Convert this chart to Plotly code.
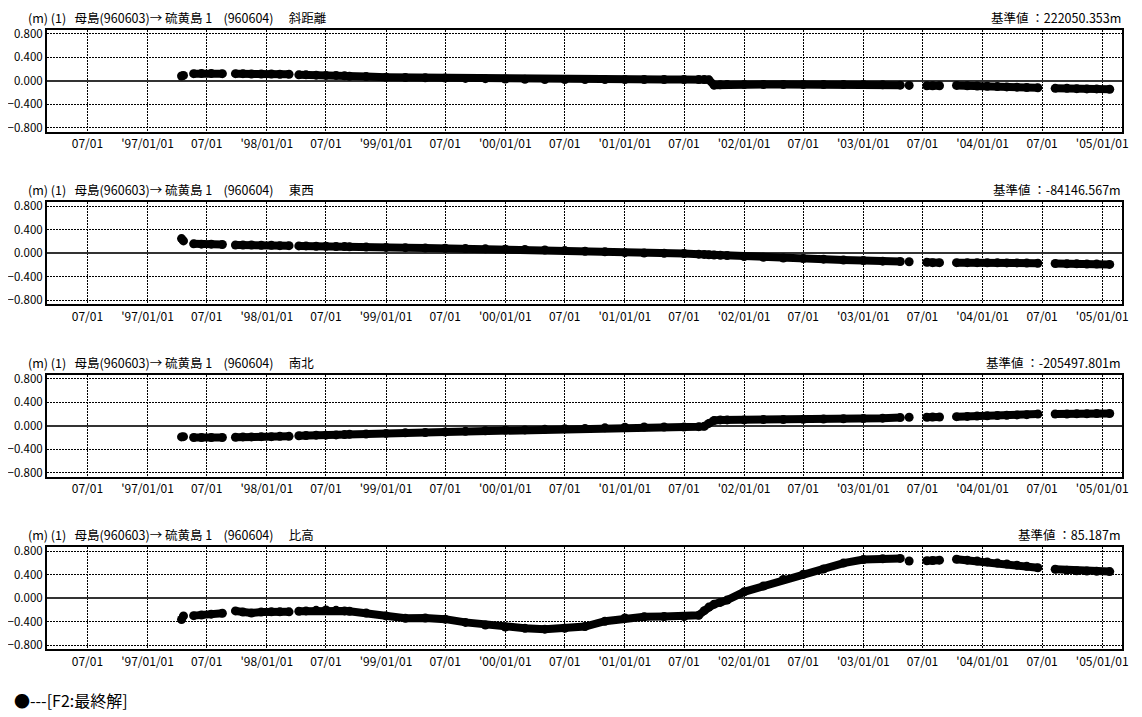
import plotly.graph_objects as go

# ---------------- data ----------------
dates = [
    "1997-04-15", "1997-04-21", "1997-05-05",
    "1997-05-22", "1997-06-15", "1997-07-15", "1997-08-18", "1997-09-05",
    "1997-09-27", "1997-10-20", "1997-11-15", "1997-12-15", "1998-01-15", "1998-02-10", "1998-03-10", "1998-03-25",
    "1998-04-09", "1998-05-01", "1998-06-01", "1998-07-01", "1998-08-01", "1998-08-27",
    "1998-09-11", "1998-11-01", "1999-01-01", "1999-03-01", "1999-05-01", "1999-07-01", "1999-09-01", "1999-11-01",
    "2000-01-01", "2000-03-01", "2000-05-01", "2000-07-01", "2000-09-01", "2000-11-01",
    "2001-01-01", "2001-03-01", "2001-05-01", "2001-07-01",
    "2001-08-15", "2001-09-01", "2001-09-15", "2001-10-01", "2001-10-20", "2001-11-10",
    "2002-01-01", "2002-03-01", "2002-05-01", "2002-07-01", "2002-09-01", "2002-11-01",
    "2003-01-01", "2003-03-01", "2003-04-24", "2003-05-08", "2003-05-21", "2003-06-15",
    "2003-07-14", "2003-08-01", "2003-08-22", "2003-09-15",
    "2003-10-13", "2003-11-15", "2003-12-15", "2004-01-15", "2004-02-15", "2004-03-15", "2004-04-15", "2004-05-15", "2004-06-18",
    "2004-07-15",
    "2004-08-10", "2004-09-15", "2004-10-15", "2004-11-15", "2004-12-15", "2005-01-24",
]

slope_dist = [
    0.08, 0.09, None,
    0.12, 0.125, 0.125, 0.12, None,
    0.12, 0.12, 0.115, 0.115, 0.115, 0.11, 0.11, None,
    0.10, 0.10, 0.095, 0.09, 0.09, 0.085,
    0.075, 0.07, 0.06, 0.055, 0.05, 0.045, 0.04, 0.035,
    0.03, 0.025, 0.02, 0.02, 0.02, 0.02,
    0.02, 0.02, 0.02, 0.02,
    0.02, 0.02, 0.015, -0.075, -0.07, -0.065,
    -0.065, -0.065, -0.065, -0.065, -0.065, -0.065,
    -0.065, -0.07, -0.075, None, -0.08, None,
    -0.085, -0.085, -0.085, None,
    -0.08, -0.085, -0.09, -0.095, -0.10, -0.105, -0.11, -0.115, -0.12,
    None,
    -0.13, -0.13, -0.135, -0.14, -0.14, -0.145,
]

east_west = [
    0.25, 0.21, None,
    0.16, 0.155, 0.155, 0.15, None,
    0.14, 0.14, 0.14, 0.135, 0.135, 0.13, 0.13, None,
    0.125, 0.125, 0.12, 0.12, 0.115, 0.115,
    0.11, 0.105, 0.10, 0.095, 0.09, 0.085, 0.08, 0.075,
    0.07, 0.065, 0.055, 0.045, 0.035, 0.025,
    0.01, 0.005, 0.0, -0.005,
    -0.015, -0.02, -0.025, -0.03, -0.035, -0.04,
    -0.055, -0.07, -0.08, -0.09, -0.10, -0.115,
    -0.125, -0.135, -0.14, None, -0.145, None,
    -0.155, -0.16, -0.16, None,
    -0.16, -0.16, -0.16, -0.162, -0.163, -0.165, -0.165, -0.167, -0.17,
    None,
    -0.175, -0.18, -0.18, -0.185, -0.185, -0.19,
]

north_south = [
    -0.19, -0.185, None,
    -0.20, -0.20, -0.20, -0.20, None,
    -0.195, -0.19, -0.19, -0.185, -0.185, -0.18, -0.18, None,
    -0.17, -0.165, -0.16, -0.16, -0.155, -0.15,
    -0.145, -0.14, -0.13, -0.12, -0.115, -0.105, -0.095, -0.085,
    -0.075, -0.07, -0.06, -0.05, -0.045, -0.035,
    -0.025, -0.02, -0.02, -0.02,
    -0.015, -0.01, 0.04, 0.09, 0.10, 0.10,
    0.10, 0.105, 0.105, 0.11, 0.115, 0.12,
    0.125, 0.13, 0.14, None, 0.145, None,
    0.145, 0.15, 0.15, None,
    0.155, 0.16, 0.165, 0.17, 0.175, 0.18, 0.185, 0.19, 0.20,
    None,
    0.20, 0.20, 0.205, 0.205, 0.21, 0.21,
]

height_diff = [
    -0.36, -0.30, None,
    -0.295, -0.285, -0.27, -0.255, None,
    -0.215, -0.235, -0.25, -0.235, -0.23, -0.23, -0.23, None,
    -0.22, -0.215, -0.205, -0.20, -0.205, -0.215,
    -0.22, -0.25, -0.30, -0.34, -0.335, -0.355, -0.41, -0.455,
    -0.49, -0.51, -0.525, -0.51, -0.48, -0.39,
    -0.335, -0.315, -0.31, -0.31,
    -0.29, -0.21, -0.15, -0.10, -0.07, -0.03,
    0.11, 0.21, 0.32, 0.41, 0.50, 0.60,
    0.66, 0.675, 0.68, None, 0.635, None,
    0.64, 0.645, 0.65, None,
    0.665, 0.65, 0.635, 0.62, 0.60, 0.585, 0.565, 0.545, 0.52,
    None,
    0.495, 0.48, 0.47, 0.465, 0.46, 0.455,
]

NB = "\u00a0"
title_head = "(m)" + NB + "(1)" + NB * 3 + "母島(960603)→" + NB + "硫黄島" + NB + "1" + NB * 4 + "(960604)　" + NB
panel_titles = [
    title_head + "斜距離",
    title_head + "東西",
    title_head + "南北",
    title_head + "比高",
]
base_values = [
    "基準値" + NB + "：222050.353m",
    "基準値" + NB + "：-84146.567m",
    "基準値" + NB + "：-205497.801m",
    "基準値" + NB + "：85.187m",
]

x_tick_dates = [
    "1996-07-01", "1997-01-01", "1997-07-01", "1998-01-01", "1998-07-01", "1999-01-01",
    "1999-07-01", "2000-01-01", "2000-07-01", "2001-01-01", "2001-07-01", "2002-01-01",
    "2002-07-01", "2003-01-01", "2003-07-01", "2004-01-01", "2004-07-01", "2005-01-01",
]
x_tick_text = [
    "07/01", "'97/01/01", "07/01", "'98/01/01", "07/01", "'99/01/01",
    "07/01", "'00/01/01", "07/01", "'01/01/01", "07/01", "'02/01/01",
    "07/01", "'03/01/01", "07/01", "'04/01/01", "07/01", "'05/01/01",
]
y_tick_vals = [-0.8, -0.4, 0.0, 0.4, 0.8]
y_tick_text = ["−0.800", "−0.400", "0.000", "0.400", "0.800"]

legend_text = "●---[F2:最終解]"

series = [slope_dist, east_west, north_south, height_diff]

# ---------------- layout geometry ----------------
# the page body has an 8px margin, so figure coordinates = reference - 8
W, H = 1134, 709
OFF = 8
left_px, right_px = 45 - OFF, 1128 - OFF
first_top, step_px, panel_h = 24.8 - OFF, 174.5, 103.4
x_range = ["1996-02-27 10:00", "2005-03-02 20:00"]
y_range = [-0.871, 0.871]

CJK = "Noto Sans CJK JP"

fig = go.Figure()
layout = dict(
    width=W, height=H,
    margin=dict(l=0, r=0, t=0, b=0),
    paper_bgcolor="white", plot_bgcolor="white",
    showlegend=False,
    annotations=[],
)

for k, vals in enumerate(series):
    n = "" if k == 0 else str(k + 1)
    top = first_top + step_px * k
    bot = top + panel_h
    fig.add_trace(go.Scatter(
        x=dates, y=vals, xaxis="x" + n, yaxis="y" + n,
        mode="lines+markers", connectgaps=False,
        line=dict(color="black", width=8),
        marker=dict(color="black", size=9),
        hoverinfo="skip",
    ))
    layout["xaxis" + n] = dict(
        domain=[left_px / W, right_px / W], anchor="y" + n,
        type="date", range=x_range,
        tickmode="array", tickvals=x_tick_dates, ticktext=x_tick_text,
        showgrid=True, gridcolor="black", griddash="2px,1px", gridwidth=1,
        showline=True, mirror=True, linecolor="black", linewidth=1.5,
        ticks="", tickfont=dict(family=CJK, size=12, color="black"),
        zeroline=False,
    )
    layout["yaxis" + n] = dict(
        domain=[1 - bot / H, 1 - top / H], anchor="x" + n,
        range=y_range,
        tickmode="array", tickvals=y_tick_vals, ticktext=y_tick_text,
        showgrid=True, gridcolor="black", griddash="2px,1px", gridwidth=1,
        zeroline=True, zerolinecolor="#333333", zerolinewidth=1.5,
        showline=True, mirror=True, linecolor="black", linewidth=1.5,
        ticks="", tickfont=dict(family=CJK, size=11.5, color="black"),
    )
    layout["annotations"].append(dict(
        text=panel_titles[k], xref="paper", yref="paper",
        x=(25 - OFF) / W, y=1 - (top - 12.5) / H, xanchor="left", yanchor="middle",
        showarrow=False, borderpad=0, font=dict(family=CJK, size=12.5, color="black"),
    ))
    layout["annotations"].append(dict(
        text=base_values[k], xref="paper", yref="paper",
        x=right_px / W, y=1 - (top - 12.5) / H, xanchor="right", yanchor="middle",
        showarrow=False, borderpad=0, font=dict(family=CJK, size=12.5, color="black"),
    ))

layout["annotations"].append(dict(
    text=legend_text, xref="paper", yref="paper",
    x=(11 - OFF) / W, y=1 - (703 - OFF) / H, xanchor="left", yanchor="middle",
    showarrow=False, borderpad=0, font=dict(family=CJK, size=16, color="black"),
))

fig.update_layout(**layout)
fig.write_html("out.html")
